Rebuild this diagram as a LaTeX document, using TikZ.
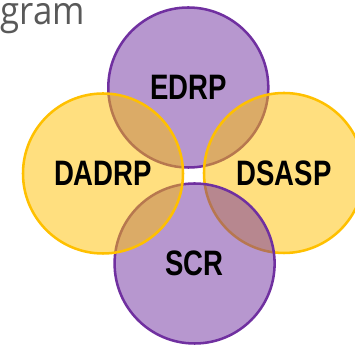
\documentclass[tikz,border=0pt]{standalone}
\usepackage{fontspec}
\newfontfamily\labelfont[FakeStretch=0.78]{Liberation Sans}
\newfontfamily\titlefont[FakeStretch=0.9]{Open Sans}
\definecolor{ringpurple}{RGB}{112,48,160}
\definecolor{ringgold}{RGB}{255,192,0}
\definecolor{titlegray}{RGB}{89,89,89}

\tikzset{every picture/.style={line width=0.75pt}}
\tikzset{
  ring/.style={circle, minimum size=120pt, inner sep=0pt, line width=1.9pt,
    font=\labelfont\bfseries\fontsize{26.5}{27}\selectfont},
  purple ring/.style={ring, draw=ringpurple, fill=ringpurple, fill opacity=0.5, text opacity=1},
  gold ring/.style={ring, draw=ringgold, fill=ringgold, fill opacity=0.5, text opacity=1}
}

\begin{document}
\begin{tikzpicture}[x=0.75pt,y=0.75pt,yscale=-1,xscale=1]
    \useasboundingbox (0,0) rectangle (355,345);
    
    % Title Node (cut at the left edge)
    \draw (0,25) node [anchor=base west][inner sep=0pt] [color=titlegray] {\titlefont\fontsize{29}{32}\selectfont gram};
    
    %Shape: Circle top
    \node [purple ring] (edrp) at (188.3,87.5) {EDRP};
    %Shape: Circle right
    \node [gold ring] (dsasp) at (284,173) {DSASP};
    %Shape: Circle bottom
    \node [purple ring] (scr) at (194.6,263.5) {SCR};
    %Shape: Circle left
    \node [gold ring] (dadrp) at (103,173.5) {DADRP};
    
\end{tikzpicture}
\end{document}
